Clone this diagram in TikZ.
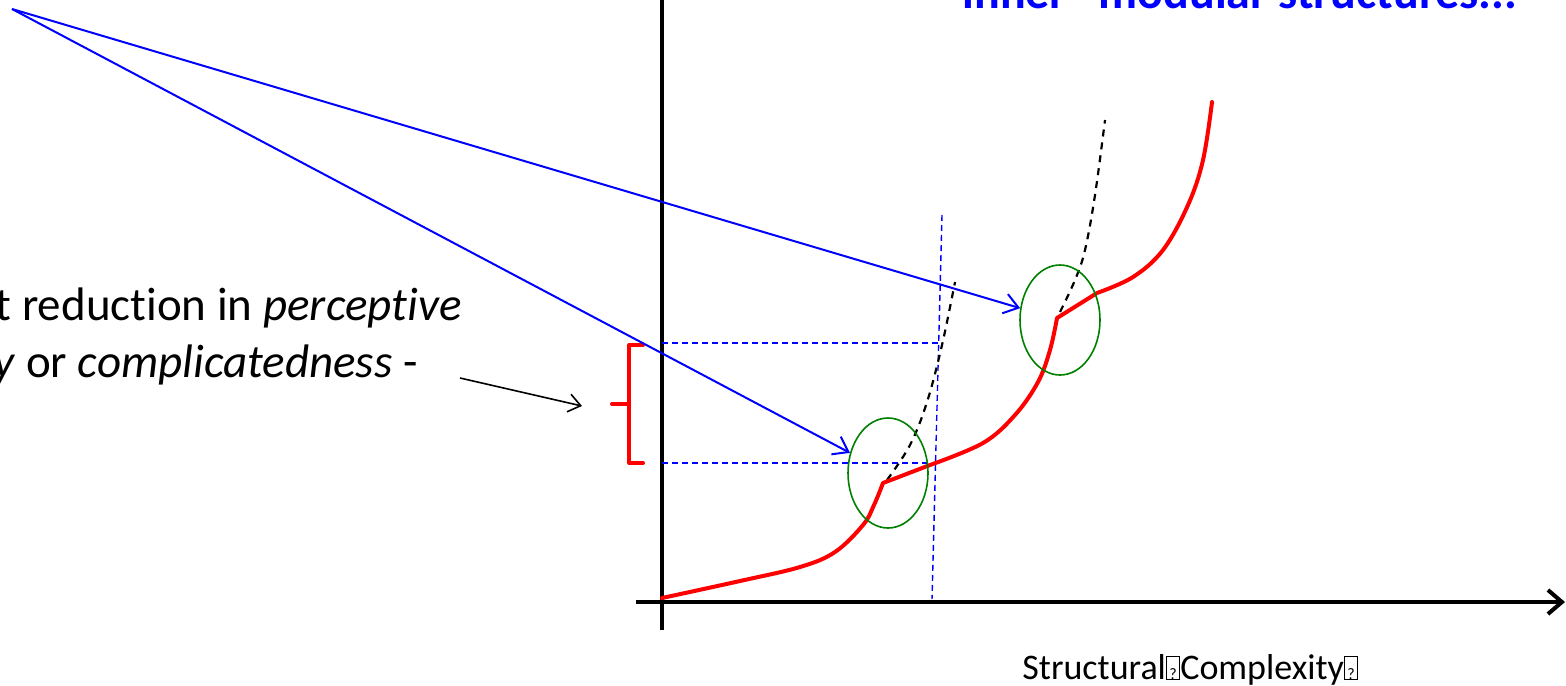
\documentclass[tikz,border=0pt]{standalone}
\usepackage{fontspec}
\setmainfont[Ligatures=NoCommon]{Carlito}
\usetikzlibrary{arrows.meta,shapes.geometric}
\newcommand{\missingglyph}{{\setlength{\fboxsep}{0.2pt}\setlength{\fboxrule}{0.5pt}\fbox{\raisebox{0pt}[0.6em][0pt]{\makebox[0.32em]{\fontsize{8}{8}\selectfont ?}}}}}
\tikzset{
  axisline/.style={line width=2pt, black},
  redcurve/.style={line width=2pt, red, line join=round, line cap=round},
  blackdash/.style={line width=1.1pt, black, dash pattern=on 3.5pt off 3pt},
  bluedash/.style={line width=0.7pt, blue, dash pattern=on 3pt off 2pt},
  bluearrow/.style={line width=1pt, blue, -{Straight Barb[length=7pt,width=10pt,line width=1pt]}},
  blackarrow/.style={line width=0.8pt, black, -{Straight Barb[length=6pt,width=9pt,line width=0.8pt]}},
  ring/.style={ellipse, draw=green!50!black, line width=0.8pt, minimum width=40pt, minimum height=55pt, inner sep=0pt},
  bracket/.style={line width=2pt, red, line join=round, line cap=round},
}
\begin{document}
\begin{tikzpicture}[x=0.5pt,y=-0.5pt]
\useasboundingbox (0,0) rectangle (1566,685);
\begin{scope}
\clip (0,0) rectangle (1566,685);

% top title (cut by the top edge)
\node[anchor=base west, inner sep=0pt, text=blue, font=\fontsize{24}{29}\selectfont\bfseries] (title) at (962,9) {inner “modular structures...”};

% left text (cut by the left edge)
\node[anchor=base east, inner sep=0pt, font=\fontsize{23.5}{28}\selectfont] (lineA) at (462,320) {t reduction in \textit{perceptive}};
\node[anchor=base east, inner sep=0pt, font=\fontsize{23.5}{28}\selectfont] (lineB) at (418,377) {\textit{y} or \textit{complicatedness} -};

% axes
\coordinate (ytop) at (662,-5);
\coordinate (ybot) at (662,630);
\coordinate (xl) at (636,602);
\coordinate (xr) at (1565,602);
\draw[axisline] (ytop) -- (ybot);
\draw[axisline, -{Straight Barb[length=7pt,width=12pt,line width=2pt]}] (xl) -- (xr);

% axis label
\node[anchor=base west, inner sep=0pt, font=\fontsize{18}{22}\selectfont] (xlabel) at (1022,679) {Structural\missingglyph Complexity\missingglyph};

% blue dashed guide lines
\coordinate (vtop) at (942,215);
\coordinate (vbot) at (932,599);
\draw[bluedash] (vtop) -- (vbot);
\coordinate (h1a) at (662,343);
\coordinate (h1b) at (940,343);
\coordinate (h2a) at (662,463);
\coordinate (h2b) at (931,463);
\draw[bluedash] (h1a) -- (h1b);
\draw[bluedash] (h2a) -- (h2b);

% red bracket
\draw[bracket] (643,345) -- (629,345) -- (629,463) -- (643,463);
\draw[bracket] (612,404) -- (629,404);

% black dashed extrapolations
\draw[blackdash] plot[smooth, tension=0.6] coordinates {(887,480) (910,445) (927,402) (942,345) (955,282)};
\draw[blackdash] plot[smooth, tension=0.6] coordinates {(1060,312) (1075,280) (1085,250) (1095,195) (1105,120)};

% red curve
\draw[redcurve] plot[smooth, tension=0.6] coordinates {(662,598) (740,581) (800,567) (835,552) (863,525) (874,505) (883,483)}
  -- plot[smooth, tension=0.6] coordinates {(930,465) (983,443) (1015,415) (1038,382) (1050,350) (1057,318)}
  -- plot[smooth, tension=0.6] coordinates {(1097,293) (1133,277) (1163,250) (1188,205) (1203,160) (1212,102)};

% green rings
\node[ring] (e1) at (888,473) {};
\node[ring] (e2) at (1060,320) {};

% blue arrows
\coordinate (src) at (12,9);
\draw[bluearrow] (src) -- (e1);
\draw[bluearrow] (src) -- (e2);

% black arrow to the bracket
\coordinate (ba) at (460,378);
\coordinate (bb) at (582,406);
\draw[blackarrow] (ba) -- (bb);
\end{scope}
\end{tikzpicture}
\end{document}
